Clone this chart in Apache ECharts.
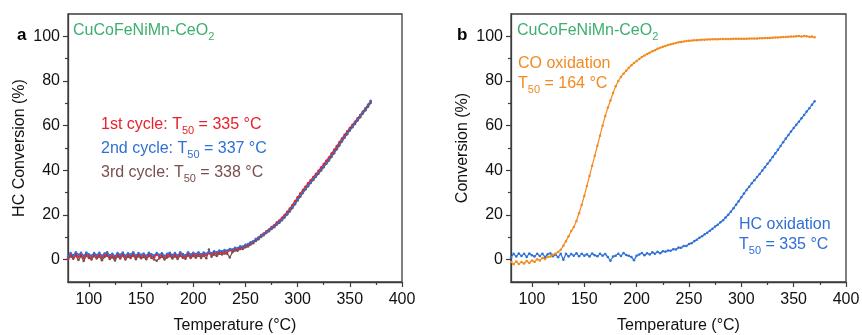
<!DOCTYPE html>
<html><head><meta charset="utf-8">
<script src="https://cdn.jsdelivr.net/npm/echarts@6/dist/echarts.min.js"></script>
<style>html,body{margin:0;padding:0;background:#fff}#c{width:862px;height:335px}</style>
</head><body><div id="c"></div>
<script>
const temps = [80,82.5,85,87.5,90,92.5,95,97.5,100,102.5,
105,107.5,110,112.5,115,117.5,120,122.5,125,127.5,
130,132.5,135,137.5,140,142.5,145,147.5,150,152.5,
155,157.5,160,162.5,165,167.5,170,172.5,175,177.5,
180,182.5,185,187.5,190,192.5,195,197.5,200,202.5,
205,207.5,210,212.5,215,217.5,220,222.5,225,227.5,
230,232.5,235,237.5,240,242.5,245,247.5,250,252.5,
255,257.5,260,262.5,265,267.5,270,272.5,275,277.5,
280,282.5,285,287.5,290,292.5,295,297.5,300,302.5,
305,307.5,310,312.5,315,317.5,320,322.5,325,327.5,
330,332.5,335,337.5,340,342.5,345,347.5,350,352.5,
355,357.5,360,362.5,365,367.5,370];

const cycle1 = [0.5,2.2,1.0,2.6,1.2,2.4,0.8,2.5,1.6,1.0,
2.4,1.3,2.2,0.9,2.0,2.6,1.1,1.9,0.8,2.3,
1.3,2.5,1.0,2.1,1.5,2.6,1.1,2.3,1.4,2.0,
1.0,2.4,1.6,1.1,2.3,1.4,2.1,0.9,1.8,2.4,
1.3,2.3,1.1,2.6,1.7,1.2,2.7,1.5,2.4,1.7,
2.6,1.6,2.5,1.9,2.9,2.1,3.1,2.5,3.4,3.1,
3.6,3.4,4.2,4.0,4.8,4.7,5.5,5.4,6.3,6.6,
7.6,8.1,9.2,9.9,11.0,11.7,12.7,13.5,14.6,15.4,
16.6,17.5,18.8,20.0,21.4,22.9,24.5,26.2,27.9,29.6,
31.2,32.7,34.2,35.6,37.0,38.4,39.8,41.3,42.8,44.3,
45.8,47.5,49.2,50.9,52.6,54.3,55.9,57.5,59.0,60.4,
61.8,63.3,64.8,66.3,67.8,69.4,71.0];

const cycle2 = [1.4,3.0,2.0,3.3,2.2,3.1,1.7,3.2,2.4,1.8,
3.0,2.1,3.1,1.8,2.8,3.3,2.0,2.7,1.6,3.0,
2.2,3.2,1.8,2.9,2.3,3.3,1.9,3.0,2.2,2.8,
1.8,3.1,2.4,1.9,3.0,2.2,2.9,1.7,2.6,3.1,
2.1,3.0,1.9,3.3,2.5,2.0,3.3,2.3,3.1,2.5,
3.3,2.4,3.2,2.7,3.6,2.9,3.8,3.3,4.1,3.8,
4.3,4.1,4.8,4.6,5.3,5.2,6.0,5.9,6.7,7.0,
7.8,8.3,9.2,9.8,10.8,11.4,12.4,13.1,14.1,14.9,
16.0,16.9,18.1,19.3,20.6,22.1,23.6,25.3,27.0,28.7,
30.3,31.8,33.3,34.7,36.1,37.5,38.9,40.4,41.9,43.4,
44.9,46.6,48.3,50.0,51.8,53.5,55.2,56.8,58.4,59.9,
61.4,62.9,64.5,66.1,67.7,69.3,71.0];

const cycle3 = [0.2,1.5,0.4,1.8,-0.2,1.6,-0.6,1.7,0.8,0.1,
1.6,0.5,1.4,-0.3,1.2,1.8,0.3,1.1,-0.4,1.5,
0.5,1.7,0.1,1.3,0.7,1.8,0.2,1.5,0.6,1.2,
0.2,1.6,0.8,0.1,-0.5,0.6,1.3,0.1,1.0,1.6,
0.5,1.5,0.3,1.8,0.9,0.4,1.9,0.7,1.6,0.9,
1.8,0.8,1.7,0.6,4.5,1.3,2.3,1.6,2.6,2.3,
2.8,2.7,1.0,3.3,4.1,4.0,4.8,4.8,5.6,5.9,
6.8,7.4,8.4,9.1,10.2,10.9,11.9,12.7,13.7,14.5,
15.6,16.5,17.7,18.9,20.2,21.6,23.1,24.8,26.5,28.2,
29.8,31.4,32.9,34.3,35.7,37.1,38.5,39.9,41.4,42.9,
44.4,46.0,47.7,49.4,51.1,52.9,54.6,56.2,57.8,59.3,
60.8,62.3,63.8,65.4,66.9,68.5,70.1];

const hcOxidation = [1.0,2.6,1.4,2.8,1.6,2.7,1.2,2.8,2.0,1.4,
2.7,1.6,2.6,1.2,2.4,2.9,1.5,2.3,1.1,2.6,
0.0,2.7,1.4,2.5,1.8,2.9,1.5,2.6,1.8,2.4,
1.4,2.8,2.0,1.5,2.6,1.8,2.5,1.2,-0.5,1.4,
1.8,2.7,1.6,3.0,2.1,1.7,1.2,-0.3,1.8,2.3,
3.0,2.0,2.9,2.3,3.3,2.6,3.5,2.9,3.8,3.6,
4.1,4.0,4.7,4.6,5.4,5.3,6.1,6.1,7.0,7.4,
8.3,8.9,9.8,10.5,11.4,12.1,13.0,13.8,14.8,15.6,
16.7,17.6,18.9,20.1,21.5,23.0,24.6,26.2,27.9,29.6,
31.2,32.7,34.2,35.6,37.0,38.4,39.9,41.4,42.9,44.4,
46.0,47.6,49.2,50.9,52.6,54.2,55.8,57.4,58.9,60.4,
61.8,63.3,64.8,66.3,67.8,69.4,70.9];

const coOxidation = [-1.0,-2.0,-0.8,-1.9,-1.1,-1.7,-0.6,-1.5,-0.4,-1.0,
0.2,-0.4,0.8,0.3,1.2,1.4,2.2,2.6,3.4,4.4,
6.2,8.3,10.5,12.8,14.6,17.3,20.8,24.5,28.5,33.0,
37.5,42.0,46.5,51.0,55.5,60.0,64.3,68.0,71.3,74.6,
77.6,80.0,81.8,83.3,84.6,85.9,87.0,88.1,89.0,89.9,
90.7,91.4,92.1,92.7,93.3,93.8,94.4,94.9,95.3,95.7,
96.1,96.4,96.7,97.0,97.3,97.5,97.7,97.9,98.0,98.1,
98.2,98.3,98.4,98.5,98.5,98.6,98.6,98.7,98.7,98.7,
98.8,98.8,98.8,98.8,98.8,98.9,98.9,98.9,98.9,98.9,
98.9,99.0,99.0,99.0,99.0,99.1,99.1,99.2,99.2,99.3,
99.4,99.5,99.5,99.6,99.7,99.7,99.8,99.9,99.9,100.0,
100.1,99.9,100.1,100.0,99.8,99.9,99.6];

const xMajorTicks = [100,150,200,250,300,350,400];
const xMinorTicks = [125,175,225,275,325,375];
const yMajorTicks = [0,20,40,60,80,100];
const yMinorTicks = [10,30,50,70,90];
const xRange = [80,400];
const yRange = [-10,110];

const FONT = "'Liberation Sans', Arial, sans-serif";
const AX = '#3c3c3c';
const C_RED = '#e8212b', C_BLUE = '#2f70d6', C_BROWN = '#7b4f4f', C_GREEN = '#3dae6e', C_ORANGE = '#f28a22';

const chart = echarts.init(document.getElementById('c'), null, {renderer:'canvas'});

function xAxes(grid) {
  return [
    {type:'value', gridIndex:grid, position:'bottom', min:xRange[0], max:xRange[1],
     name:'Temperature (°C)', nameLocation:'middle', nameGap:36,
     nameTextStyle:{fontFamily:FONT, fontSize:16, color:'#111'},
     axisLine:{show:true, onZero:false, lineStyle:{color:AX, width:1.3}},
     axisTick:{show:true, inside:false, length:5, customValues:xMajorTicks, lineStyle:{color:AX, width:1.2}},
     axisLabel:{show:true, margin:10, customValues:xMajorTicks, fontFamily:FONT, fontSize:16, color:'#111'},
     splitLine:{show:false}},
    {type:'value', gridIndex:grid, position:'bottom', min:xRange[0], max:xRange[1],
     axisLine:{show:false, onZero:false},
     axisTick:{show:true, inside:false, length:3, customValues:xMinorTicks, lineStyle:{color:AX, width:1.2}},
     axisLabel:{show:false}, splitLine:{show:false}}
  ];
}
function yAxes(grid, name) {
  return [
    {type:'value', gridIndex:grid, position:'left', min:yRange[0], max:yRange[1],
     name:name, nameLocation:'middle', nameGap:40,
     nameTextStyle:{fontFamily:FONT, fontSize:16, color:'#111'},
     axisLine:{show:true, onZero:false, lineStyle:{color:AX, width:1.3}},
     axisTick:{show:true, inside:false, length:5, customValues:yMajorTicks, lineStyle:{color:AX, width:1.2}},
     axisLabel:{show:true, margin:8, customValues:yMajorTicks, fontFamily:FONT, fontSize:16, color:'#111'},
     splitLine:{show:false}},
    {type:'value', gridIndex:grid, position:'left', min:yRange[0], max:yRange[1],
     axisLine:{show:false, onZero:false},
     axisTick:{show:true, inside:false, length:3, customValues:yMinorTicks, lineStyle:{color:AX, width:1.2}},
     axisLabel:{show:false}, splitLine:{show:false}}
  ];
}
function pairs(vals) { return temps.map((t,i)=>[t, vals[i]]); }
function ser(name, vals, color, xi, yi) {
  return {name, type:'line', xAxisIndex:xi, yAxisIndex:yi, data:pairs(vals),
    symbol:'circle', symbolSize:2.5, showSymbol:true, showAllSymbol:true,
    itemStyle:{color}, lineStyle:{color, width:1.2}, silent:true, z:3};
}
function richText(x, y, parts, color, size) {
  const s = size || 16;
  let txt = '';
  parts.forEach(p => { txt += '{' + (p[1] ? 's' : 'm') + '|' + p[0] + '}'; });
  return {type:'text', x, y, silent:true, z:10,
    style:{text:txt, align:'left', verticalAlign:'middle', textAlign:'left', textVerticalAlign:'middle',
      fill:color,
      rich:{m:{fontFamily:FONT, fontSize:s, fill:color, lineHeight:22, verticalAlign:'middle'},
            s:{fontFamily:FONT, fontSize:11, fill:color, lineHeight:22, verticalAlign:'bottom'}}}};
}

const option = {
  animation:false,
  backgroundColor:'#fff',
  grid:[
    {left:68, top:14, width:334, height:268, show:true, borderColor:AX, borderWidth:1.3, backgroundColor:'transparent', containLabel:false, outerBoundsMode:'none'},
    {left:511, top:14, width:335, height:268, show:true, borderColor:AX, borderWidth:1.3, backgroundColor:'transparent', containLabel:false, outerBoundsMode:'none'}
  ],
  xAxis:[...xAxes(0), ...xAxes(1)],
  yAxis:[...yAxes(0,'HC Conversion (%)'), ...yAxes(1,'Conversion (%)')],
  series:[
    ser('3rd cycle', cycle3, C_BROWN, 0, 0),
    ser('1st cycle', cycle1, C_RED, 0, 0),
    ser('2nd cycle', cycle2, C_BLUE, 0, 0),
    ser('HC oxidation', hcOxidation, C_BLUE, 2, 2),
    ser('CO oxidation', coOxidation, C_ORANGE, 2, 2)
  ],
  graphic:[
    {type:'text', x:17, y:35, silent:true, style:{text:'a', font:'bold 17px ' + FONT, fill:'#000', verticalAlign:'middle', textVerticalAlign:'middle'}},
    {type:'text', x:457, y:35, silent:true, style:{text:'b', font:'bold 17px ' + FONT, fill:'#000', verticalAlign:'middle', textVerticalAlign:'middle'}},
    richText(73, 31, [['CuCoFeNiMn-CeO'],['2',1]], C_GREEN),
    richText(517, 31, [['CuCoFeNiMn-CeO'],['2',1]], C_GREEN),
    richText(101, 125, [['1st cycle: T'],['50',1],[' = 335 °C']], C_RED),
    richText(101, 149, [['2nd cycle: T'],['50',1],[' = 337 °C']], C_BLUE),
    richText(101, 173, [['3rd cycle: T'],['50',1],[' = 338 °C']], C_BROWN),
    richText(518, 64, [['CO oxidation']], C_ORANGE),
    richText(518, 84, [['T'],['50',1],[' = 164 °C']], C_ORANGE),
    richText(739, 225, [['HC oxidation']], C_BLUE),
    richText(739, 245, [['T'],['50',1],[' = 335 °C']], C_BLUE)
  ]
};
chart.setOption(option);
</script>
</body></html>
